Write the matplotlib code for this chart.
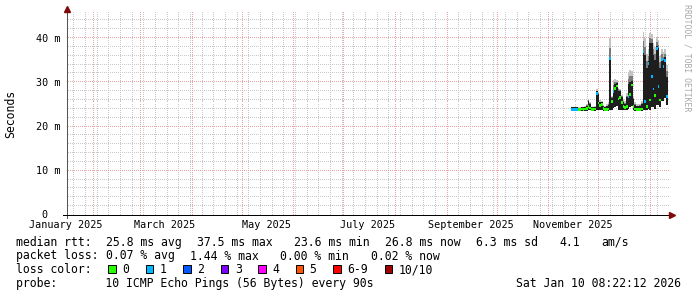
import datetime as dt
import numpy as np
import matplotlib
matplotlib.use("Agg")
import matplotlib.pyplot as plt
from matplotlib.lines import Line2D
from matplotlib.patches import Rectangle

# ---------------- data (day 0 = 2025-01-01, one sample per day) ----------------
days = list(range(318, 376))
median_ms = [23.9, 23.9, 23.9, 23.9, 23.9, 23.9, 24.0, 23.9, 24.0, 24.1,
             24.6, 24.2, 23.9, 23.9, 24.0, 27.5, 25.3, 24.7, 25.0, 24.1,
             23.9, 23.8, 24.0, 35.4, 25.6, 27.9, 28.6, 29.2, 26.2, 26.6,
             25.5, 24.5, 24.3, 24.6, 26.8, 27.2, 29.4, 24.5, 24.0, 23.8,
             23.8, 23.9, 24.0, 36.9, 25.7, 24.5, 34.3, 26.0, 31.3, 28.5,
             27.0, 37.7, 29.0, 26.0, 35.1, 33.6, 35.0, 26.8]
smoke_low = [23.7, 23.7, 23.7, 23.7, 23.7, 23.7, 23.7, 23.7, 23.7, 23.7,
             23.8, 23.8, 23.7, 23.7, 23.7, 23.8, 23.9, 23.9, 23.9, 23.7,
             23.7, 23.6, 23.7, 23.9, 23.9, 24.3, 24.5, 24.8, 24.0, 24.0,
             24.0, 23.8, 23.8, 23.8, 24.2, 24.5, 24.8, 23.8, 23.7, 23.6,
             23.6, 23.6, 23.7, 24.0, 24.0, 23.8, 24.2, 24.0, 24.5, 24.5,
             24.2, 25.0, 25.0, 24.5, 26.0, 26.0, 26.5, 25.0]
smoke_high = [24.2, 24.2, 24.2, 24.2, 24.1, 24.1, 24.2, 24.2, 24.3, 24.6,
              25.7, 25.0, 24.2, 24.2, 24.3, 27.8, 27.2, 25.4, 25.3, 24.5,
              24.3, 24.4, 24.8, 35.6, 26.3, 28.2, 29.5, 29.6, 28.0, 27.8,
              26.5, 25.5, 25.0, 26.5, 29.5, 30.0, 30.2, 26.0, 24.8, 24.4,
              24.4, 24.5, 25.0, 37.2, 36.0, 33.0, 34.6, 38.8, 38.8, 36.0,
              35.0, 38.0, 37.5, 33.0, 35.3, 34.8, 35.5, 31.0]
smoke_top = [24.4, 24.4, 24.4, 24.4, 24.4, 24.4, 24.5, 24.4, 24.6, 25.0,
             26.2, 25.6, 24.5, 24.5, 24.6, 28.4, 27.8, 25.9, 25.8, 24.9,
             24.7, 25.0, 25.5, 40.0, 27.0, 30.5, 30.8, 30.6, 28.8, 28.6,
             27.2, 26.2, 25.8, 27.5, 32.0, 32.8, 32.5, 27.0, 25.5, 25.0,
             25.0, 25.2, 25.8, 41.3, 40.0, 36.5, 37.5, 41.1, 41.0, 39.0,
             38.0, 40.2, 39.5, 36.0, 37.5, 36.8, 37.5, 34.0]
loss_count = [1, 1, 1, 1, 0, 0, 0, 0, 0, 0,
              0, 0, 0, 0, 0, 1, 0, 0, 0, 0,
              0, 0, 0, 1, 0, 1, 0, 0, 0, 0,
              0, 0, 0, 0, 1, 0, 0, 0, 0, 0,
              0, 0, 0, 1, 1, 0, 1, 0, 1, 1,
              0, 1, 1, 0, 1, 1, 1, 1]

loss_labels = ["0", "1", "2", "3", "4", "5", "6-9", "10/10"]
loss_colors = ["#26ff00", "#00b8ff", "#0059ff", "#7e00ff", "#ff00ff",
               "#ff5500", "#ff0000", "#a10000"]

y_ticks = [0, 10, 20, 30, 40]
y_tick_labels = ["0", "10 m", "20 m", "30 m", "40 m"]

legend_rows = [
    [(0, "median rtt:"), (13, "25.8 ms avg"), (26, "37.5 ms max"),
     (40, "23.6 ms min"), (53, "26.8 ms now"), (66, "6.3 ms sd"),
     (78, "4.1"), (84, "am/s")],
    [(0, "packet loss:"), (13, "0.07 % avg"), (25, "1.44 % max"),
     (38, "0.00 % min"), (51, "0.02 % now")],
]
probe_text = "probe:       10 ICMP Echo Pings (56 Bytes) every 90s"
stamp_text = "Sat Jan 10 08:22:12 2026"

# ---------------- layout ----------------
W, H = 697, 297
MONO = "DejaVu Sans Mono"


def fx(x):
    return x / W


def fy(y):
    return 1 - y / H


fig = plt.figure(figsize=(W / 100, H / 100), dpi=100)
fig.patch.set_facecolor("white")
L, R, T, B = 67, 668, 12, 215
ax = fig.add_axes([fx(L), fy(B), (R - L) / W, (B - T) / H])
ax.set_facecolor("white")
ax.set_xlim(15.2, 375.8)
ax.set_ylim(0, 45.9)
for s in ax.spines.values():
    s.set_visible(False)
ax.set_xticks([])
ax.set_yticks([])

base = dt.date(2025, 1, 1)
month_starts = []
month_names = []
for m in range(13):
    y = 2025 + m // 12
    d = dt.date(y, m % 12 + 1, 1)
    month_starts.append((d - base).days)
    month_names.append(d.strftime("%B %Y"))

# dotted grid drawn as single-pixel dots every 2 px
minor_col = "#c9c9c9"
major_col = "#eaa4a4"
xdots = np.arange(0.5, R - L, 2.0) / (R - L)       # axes fraction
ydots = np.arange(0.5, B - T, 2.0) / (B - T)       # axes fraction
vt = ax.get_xaxis_transform()   # x data, y axes
ht = ax.get_yaxis_transform()   # x axes, y data


def vline(d, col, z):
    ax.plot(np.full_like(ydots, d), ydots, ",", color=col, transform=vt,
            zorder=z, clip_on=False)


def hline(v, col, z):
    ax.plot(xdots, np.full_like(xdots, v), ",", color=col, transform=ht,
            zorder=z, clip_on=False)


for d in np.arange(19, 376, 7):   # weekly minor grid (Mondays)
    vline(d, minor_col, 0)
for v in np.arange(2, 46, 2):
    if v % 10:
        hline(v, minor_col, 0)
for d in month_starts:
    if 15.2 < d < 375.8:
        vline(d, major_col, 0.5)
for v in y_ticks[1:]:
    hline(v, major_col, 0.5)

# ---------------- smoke + median ----------------
days_a = np.array(days, dtype=float)
lo = np.array(smoke_low)
hi = np.array(smoke_high)
top = np.array(smoke_top)
med = np.array(median_ms)
mid = (hi + top) / 2
ax.bar(days_a, top - mid, bottom=mid, width=1.0, color="#c4c4c4", lw=0, zorder=2)
ax.bar(days_a, mid - hi, bottom=hi, width=1.0, color="#7a7a7a", lw=0, zorder=2)
ax.bar(days_a, hi - lo + 0.3, bottom=lo - 0.15, width=1.0, color="#1e1e1e",
       lw=0, zorder=3)
cols = [loss_colors[min(c, 6) if c < 10 else 7] for c in loss_count]
ax.bar(days_a, 0.6, bottom=med - 0.3, width=1.0, color=cols, lw=0, zorder=4)

# ---------------- axes lines & arrows ----------------
arrow_col = "#7f0a0a"
lw = 0.72
fig.add_artist(Line2D([fx(L), fx(L)], [fy(218), fy(10)], color="#555555",
                      lw=lw, transform=fig.transFigure))
fig.add_artist(Line2D([fx(63), fx(671)], [fy(B), fy(B)], color="#000000",
                      lw=lw, transform=fig.transFigure))
fig.add_artist(Line2D([fx(L)], [fy(8.5)], marker="^", ms=4.0, color=arrow_col,
                      mec=arrow_col, transform=fig.transFigure))
fig.add_artist(Line2D([fx(672)], [fy(B)], marker=">", ms=4.0, color=arrow_col,
                      mec=arrow_col, transform=fig.transFigure))

# ---------------- tick labels ----------------
ax_fs = 7.3
for i in range(0, 12, 2):
    d = month_starts[i] + 14.7
    ax.annotate(month_names[i], xy=(d, 0), xycoords=("data", "axes fraction"),
                xytext=(0, -13.5), textcoords="offset pixels", ha="center",
                va="baseline", fontsize=ax_fs, family=MONO, annotation_clip=False)
cw_ax = 0.602 * ax_fs * 100 / 72
for v, lab in zip(y_ticks, y_tick_labels):
    xoff = -7 if v else -7 - 2 * cw_ax
    ax.annotate(lab, xy=(0, v), xycoords=("axes fraction", "data"),
                xytext=(xoff, -3.5), textcoords="offset pixels", ha="right",
                va="baseline", fontsize=ax_fs, family=MONO, annotation_clip=False)

fig.text(fx(11), fy(114), "Seconds", rotation=90, ha="center", va="center",
         fontsize=8.3, family=MONO)
fig.text(fx(687), fy(4), "RRDTOOL / TOBI OETIKER", rotation=270, ha="center",
         va="top", fontsize=5.9, family=MONO, color="#a8a8a8")

# ---------------- legend ----------------
lg_fs = 8.3
cw = 6.97
x0 = 15.5
baselines = [245.7, 259.5, 273.3, 287.2]
for row, yb in zip(legend_rows, baselines):
    for col, txt in row:
        fig.text(fx(x0 + col * cw), fy(yb), txt, ha="left", va="baseline",
                 fontsize=lg_fs, family=MONO)

fig.text(fx(x0), fy(baselines[2]), "loss color:", ha="left", va="baseline",
         fontsize=lg_fs, family=MONO)
bx = 108.3
for lab, c in zip(loss_labels, loss_colors):
    fig.add_artist(Rectangle((fx(bx), fy(272.8)), 7.7 / W, 8.3 / H,
                             transform=fig.transFigure, facecolor=c,
                             edgecolor="black", lw=0.7))
    tx = bx + 14
    fig.text(fx(tx), fy(baselines[2]), lab, ha="left", va="baseline",
             fontsize=lg_fs, family=MONO)
    bx = tx + len(lab) * cw + 16.5

fig.text(fx(x0), fy(baselines[3]), probe_text, ha="left", va="baseline",
         fontsize=lg_fs, family=MONO)
fig.text(fx(681), fy(baselines[3]), stamp_text, ha="right", va="baseline",
         fontsize=lg_fs, family=MONO)

fig.savefig("out.png", dpi=100, facecolor="white")
